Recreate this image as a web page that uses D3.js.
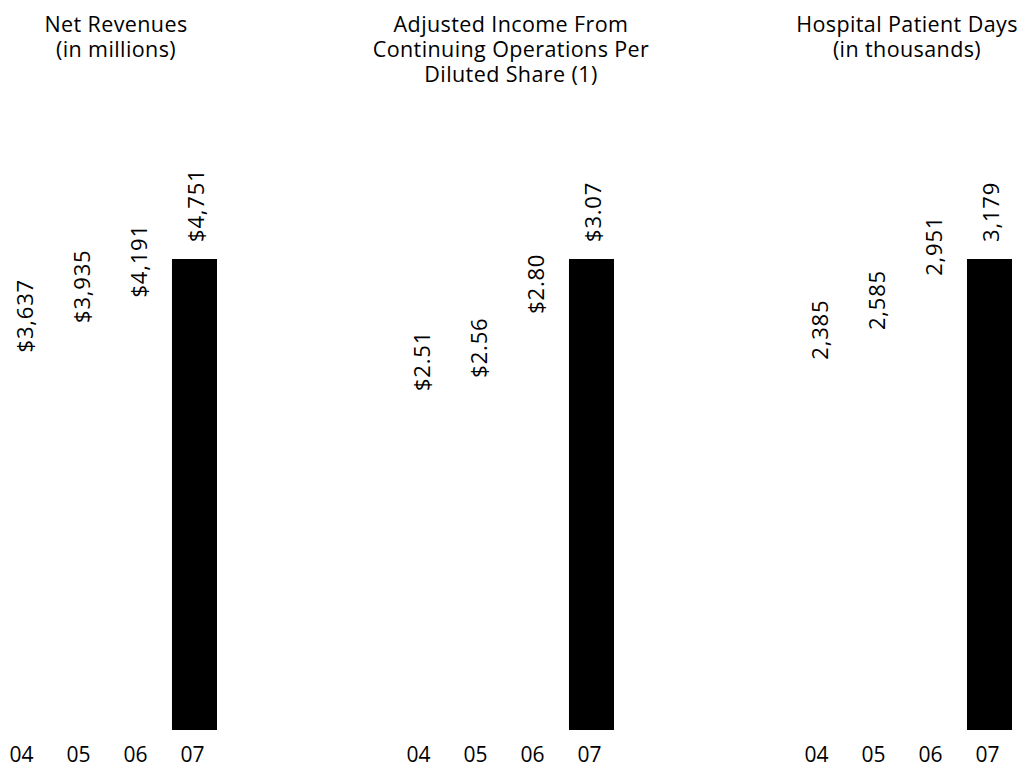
<!DOCTYPE html>
<html>
<head>
<meta charset="utf-8">
<script src="https://cdn.jsdelivr.net/npm/d3@7"></script>
<style>
  html, body { margin: 0; padding: 0; background: #fff; }
  svg { display: block; }
  text { font-family: "Open Sans", Lato, sans-serif; fill: #000; }
</style>
</head>
<body>
<svg id="chart" width="1025" height="769"></svg>
<script>
// Fiscal years shown in every panel
const years = ["04", "05", "06", "07"];

// Panel values
const netRevenues = [3637, 3935, 4191, 4751];          // $ millions
const adjustedEps = [2.51, 2.56, 2.80, 3.07];          // $ per diluted share
const patientDays = [2385, 2585, 2951, 3179];          // thousands

// Value label text
const netRevenueLabels = ["$3,637", "$3,935", "$4,191", "$4,751"];
const epsLabels = ["$2.51", "$2.56", "$2.80", "$3.07"];
const patientDayLabels = ["2,385", "2,585", "2,951", "3,179"];

// Panel titles (one entry per line)
const titles = [
  ["Net Revenues", "(in millions)"],
  ["Adjusted Income From", "Continuing Operations Per", "Diluted Share (1)"],
  ["Hospital Patient Days", "(in thousands)"]
];

// Lower end of each panel's value axis
const axisFloors = [0, 1.3, 0];

const panels = [
  { values: netRevenues, labels: netRevenueLabels },
  { values: adjustedEps, labels: epsLabels },
  { values: patientDays, labels: patientDayLabels }
];

const svg = d3.select("#chart");

// Layout
const panelLefts = [1, 398, 796];
const titleShifts = [7, 5, 3];
const plotWidth = 216;
const baseline = 730;
const barTop = 259;

panels.forEach((p, i) => {
  const g = svg.append("g").attr("transform", `translate(${panelLefts[i]},0)`);

  const x = d3.scaleBand()
    .domain(years)
    .range([0, plotWidth])
    .paddingInner(0.21)
    .paddingOuter(0);

  const y = d3.scaleLinear()
    .domain([axisFloors[i], d3.max(p.values)])
    .range([baseline, barTop]);

  const rows = years.map((yr, j) => ({ year: yr, value: p.values[j], label: p.labels[j], last: j === years.length - 1 }));

  // Bars: the current year is solid black, prior years stay white
  g.selectAll("rect.bar")
    .data(rows)
    .join("rect")
    .attr("class", "bar")
    .attr("x", d => x(d.year))
    .attr("width", x.bandwidth())
    .attr("y", d => y(d.value))
    .attr("height", d => baseline - y(d.value))
    .attr("fill", d => d.last ? "#000" : "#fff");

  // Vertical value labels above each bar
  g.selectAll("text.value")
    .data(rows)
    .join("text")
    .attr("class", "value")
    .attr("transform", d => `translate(${x(d.year) + x.bandwidth() / 2 + 2},${y(d.value) - 17}) rotate(-90)`)
    .attr("dy", "0.36em")
    .attr("text-anchor", "start")
    .style("font-size", "22px")
    .style("letter-spacing", "0.8px")
    .text(d => d.label);

  // Year axis (labels only)
  const axis = d3.axisBottom(x).tickSize(0).tickPadding(0);
  const ag = g.append("g")
    .attr("transform", `translate(-2,${baseline + 17})`)
    .call(axis);
  ag.select(".domain").remove();
  ag.selectAll("text")
    .attr("dy", "0.71em")
    .style("font-size", "21px")
    .style("font-family", "'Open Sans', Lato, sans-serif")
    .attr("fill", "#000");

  // Title
  const cx = plotWidth / 2 + titleShifts[i];
  const t = g.append("text")
    .attr("x", cx)
    .attr("y", 32)
    .attr("text-anchor", "middle")
    .style("font-size", "21.5px")
    .style("letter-spacing", "0.4px");
  titles[i].forEach((line, k) => {
    t.append("tspan")
      .attr("x", cx)
      .attr("dy", k === 0 ? 0 : 25)
      .text(line);
  });
});
</script>
</body>
</html>
